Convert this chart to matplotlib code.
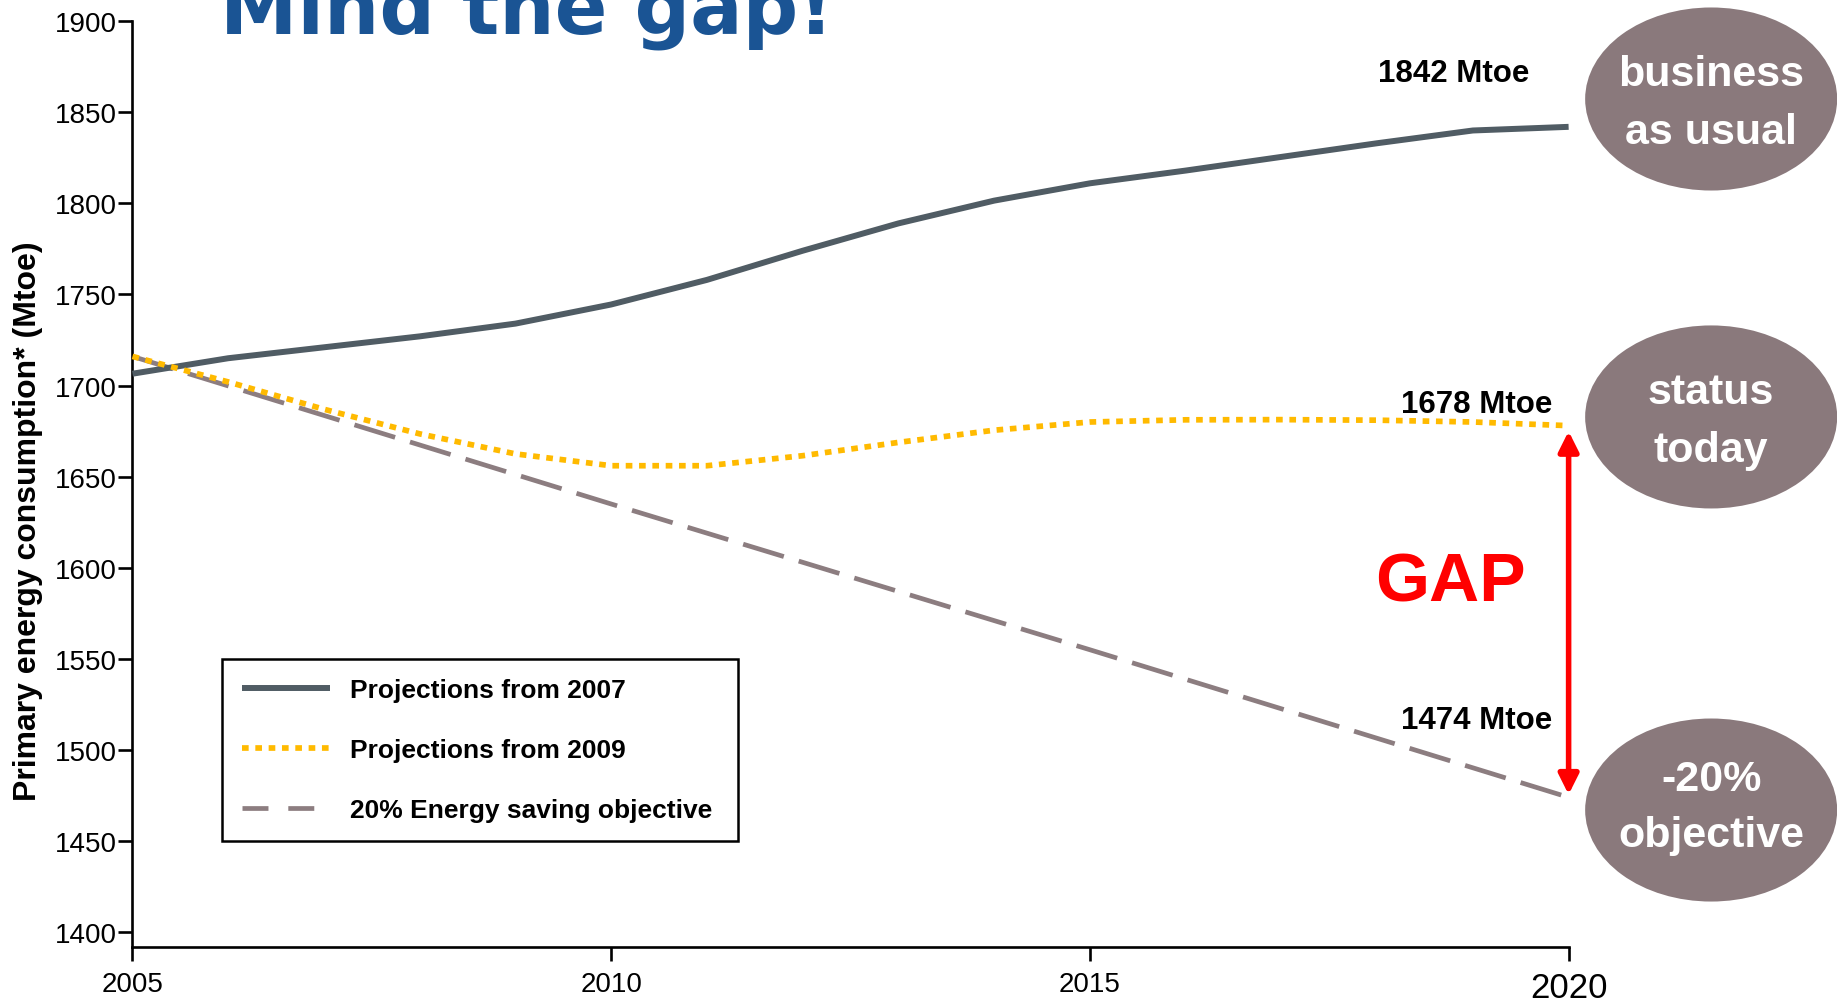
import matplotlib
matplotlib.use("Agg")
import matplotlib.pyplot as plt
from matplotlib.patches import Ellipse, FancyArrowPatch
from matplotlib.lines import Line2D

plt.rcParams['font.family'] = ['Liberation Sans', 'DejaVu Sans']

# ---- data -------------------------------------------------------------
years = [2005, 2006, 2007, 2008, 2009, 2010, 2011, 2012,
         2013, 2014, 2015, 2016, 2017, 2018, 2019, 2020]
proj_2007 = [1706.5, 1715, 1721, 1727, 1734, 1744.5, 1758, 1774,
             1789, 1801.5, 1811, 1818, 1825.5, 1833, 1840, 1842]
proj_2009 = [1716, 1702, 1687, 1673.5, 1662.5, 1656, 1656, 1661.5,
             1668.8, 1675.5, 1680, 1681.2, 1681.3, 1681, 1680, 1678]
objective_years = [2005, 2010, 2015, 2020]
objective = [1716, 1635, 1555, 1474]

series_labels = ['Projections from 2007', 'Projections from 2009',
                 '20% Energy saving objective']
end_labels = ['1842 Mtoe', '1678 Mtoe', '1474 Mtoe']
bubble_texts = ['business\nas usual', 'status\ntoday', '-20%\nobjective']
x_ticks = [2005, 2010, 2015, 2020]
y_ticks = [1400, 1450, 1500, 1550, 1600, 1650, 1700, 1750, 1800, 1850, 1900]

# ---- styling ----------------------------------------------------------
C_2007 = '#505C64'
C_2009 = '#FFBA00'
C_OBJ = '#8C7D80'
C_BUBBLE = '#8A797C'
C_TITLE = '#1A5494'

fig = plt.figure(figsize=(18.37, 10.03), dpi=100)
ax = fig.add_axes([0.0721, 0.0551, 0.7818, 0.9228])

l_obj, = ax.plot(objective_years, objective, color=C_OBJ, lw=3.4,
                 linestyle=(0, (9.0, 3.3)), dash_capstyle='butt',
                 label=series_labels[2], clip_on=False, zorder=2)
l_07, = ax.plot(years, proj_2007, color=C_2007, lw=4.3,
                solid_capstyle='butt', label=series_labels[0],
                clip_on=False, zorder=3)
l_09, = ax.plot(years, proj_2009, color=C_2009, lw=4.1,
                linestyle=(0, (1.17, 1.17)), dash_capstyle='butt',
                label=series_labels[1], clip_on=False, zorder=4)

ax.set_xlim(2005, 2020)
ax.set_ylim(1392, 1900)
ax.set_xticks(x_ticks)
ax.set_yticks(y_ticks)
ax.set_xticklabels([str(t) for t in x_ticks])
ax.set_yticklabels([str(t) for t in y_ticks])
for lab in ax.get_xticklabels():
    lab.set_fontsize(20)
ax.get_xticklabels()[-1].set_fontsize(25)
for lab in ax.get_yticklabels():
    lab.set_fontsize(20)

for side in ('top', 'right'):
    ax.spines[side].set_visible(False)
for side in ('left', 'bottom'):
    ax.spines[side].set_linewidth(1.9)
ax.tick_params(axis='both', direction='out', length=10, width=1.9,
               color='black')
ax.tick_params(axis='y', pad=1)
ax.tick_params(axis='x', pad=7.5)

ax.set_ylabel('Primary energy consumption* (Mtoe)', fontsize=23,
              fontweight='bold')
ax.yaxis.label.set_verticalalignment('center')
ax.yaxis.set_label_coords(-0.0728, 0.461)

# legend (short-dash proxy for the objective line)
obj_handle = Line2D([], [], color=C_OBJ, lw=3.4, linestyle=(0, (5.5, 4.2)),
                    dash_capstyle='butt')
leg = ax.legend(handles=[l_07, l_09, obj_handle], labels=series_labels,
                loc='upper left', mode='expand',
                bbox_to_anchor=(0.0627, 0.0, 0.3589, 0.3113),
                borderaxespad=0,
                prop={'family': 'Liberation Sans', 'weight': 'bold', 'size': 19},
                handlelength=3.33, handletextpad=0.76, labelspacing=1.37,
                borderpad=0.73, fancybox=False, framealpha=1,
                edgecolor='black')
leg.get_frame().set_linewidth(1.8)

# end-point value labels
end_vals = [proj_2007[-1], proj_2009[-1], objective[-1]]
offsets = [(-28, 33), (-12, 10), (-12, 50)]
for txt, val, off in zip(end_labels, end_vals, offsets):
    ax.annotate(txt, xy=(years[-1], val), xytext=off,
                textcoords='offset points', ha='right', va='baseline',
                fontsize=22.5, fontweight='bold', color='black')

# gap arrow between current status and objective
arrow = FancyArrowPatch((years[-1], objective[-1]), (years[-1], proj_2009[-1]),
                        arrowstyle='<|-|>,head_length=0.6,head_width=0.3',
                        mutation_scale=20, color='#FF0000', lw=4,
                        shrinkA=2, shrinkB=4, clip_on=False, zorder=5)
ax.add_patch(arrow)
ax.text(2018.77, 1582, 'GAP', ha='center', va='baseline', fontsize=50,
        fontweight='bold', color='#FF0000')

# title
fig.text(0.120, 0.967, 'Mind the gap!', ha='left', va='baseline',
         fontsize=56, fontweight='bold', family='DejaVu Sans', color=C_TITLE)

# scenario bubbles
bubble_y = [0.9003, 0.5833, 0.1914]
text_shift = [-0.004, -0.004, 0.003]
text_spacing = [1.61, 1.61, 1.5]
for txt, yc, dy, ls in zip(bubble_texts, bubble_y, text_shift, text_spacing):
    fig.add_artist(Ellipse((0.9315, yc), 0.1372, 0.1825,
                           transform=fig.transFigure, facecolor=C_BUBBLE,
                           edgecolor='none'))
    fig.text(0.9315, yc + dy, txt, ha='center', va='center', ma='center',
             fontsize=31, fontweight='bold', color='white', linespacing=ls)

fig.savefig('out.png', dpi=100)
